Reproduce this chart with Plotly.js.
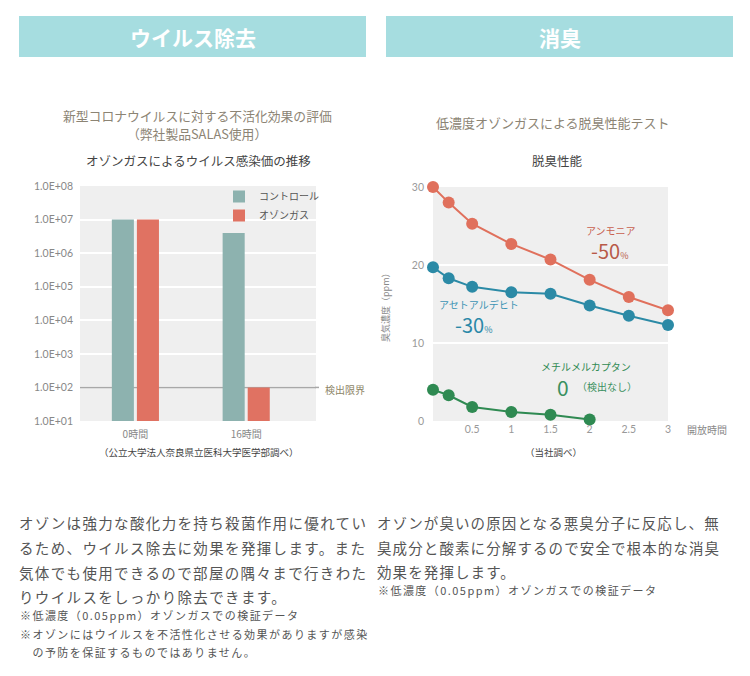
<!DOCTYPE html>
<html>
<head>
<meta charset="utf-8">
<script src="https://cdn.plot.ly/plotly-3.0.1.min.js"></script>
<style>
html,body{margin:0;padding:0;background:#fff;}
#chart{width:750px;height:676px;}
</style>
<style id="spacing"></style>
</head>
<body>
<div id="chart"></div>
<script>
// ---- Data: virus chart ----
const barCategories = ['0時間', '16時間'];
const controlValues = [1e7, 4e6];
const ozoneValues = [1e7, 1e2];
const logTickVals = [1e1, 1e2, 1e3, 1e4, 1e5, 1e6, 1e7, 1e8];
const logTickText = ['1.0E+01', '1.0E+02', '1.0E+03', '1.0E+04', '1.0E+05', '1.0E+06', '1.0E+07', '1.0E+08'];
const detectionLimit = 1e2;

// ---- Data: deodorizing chart ----
const timeLong = [0, 0.2, 0.5, 1, 1.5, 2, 2.5, 3];
const ammonia = [30, 28, 25.3, 22.7, 20.7, 18.1, 15.9, 14.2];
const acetaldehyde = [19.7, 18.3, 17.2, 16.5, 16.3, 14.8, 13.5, 12.3];
const timeShort = [0, 0.2, 0.5, 1, 1.5, 2];
const methylMercaptan = [4.0, 3.3, 1.8, 1.15, 0.8, 0.2];
const odorTickVals = [0, 10, 20, 30];
const timeTickVals = [0.5, 1, 1.5, 2, 2.5, 3];
const timeTickText = ['0.5', '1', '1.5', '2', '2.5', '3'];

// ---- Texts ----
const leftParagraph = [
  'オゾンは強力な酸化力を持ち殺菌作用に優れてい',
  'るため、ウイルス除去に効果を発揮します。また',
  '気体でも使用できるので部屋の隅々まで行きわた',
  'りウイルスをしっかり除去できます。'
];
const leftNotes = [
  '※低濃度（0.05ppm）オゾンガスでの検証データ',
  '※オゾンにはウイルスを不活性化させる効果がありますが感染',
  '　の予防を保証するものではありません。'
];
const rightParagraph = [
  'オゾンが臭いの原因となる悪臭分子に反応し、無',
  '臭成分と酸素に分解するので安全で根本的な消臭',
  '効果を発揮します。'
];
const rightNotes = ['※低濃度（0.05ppm）オゾンガスでの検証データ'];

const W = 750, H = 676;
const px = x => x / W;
const py = y => 1 - y / H;
const JP = '"Noto Sans CJK JP", "Noto Sans", sans-serif';
const NUM = 'Lato, "Noto Sans", sans-serif';

const cRed = '#e0705c';
const cTeal = '#2b8aa6';
const cGreen = '#2f8a52';
const cControl = '#8db2af';
const cOzone = '#e07262';

const barXRange = [-0.5, 1.63];

const traces = [
  {type: 'bar', name: 'コントロール', x: barCategories, y: controlValues, marker: {color: cControl}, xaxis: 'x', yaxis: 'y', hoverinfo: 'skip'},
  {type: 'bar', name: 'オゾンガス', x: barCategories, y: ozoneValues, marker: {color: cOzone}, xaxis: 'x', yaxis: 'y', hoverinfo: 'skip'},
  {type: 'scatter', mode: 'lines+markers', name: 'アンモニア', x: timeLong, y: ammonia, line: {color: cRed, width: 2}, marker: {color: cRed, size: 12}, xaxis: 'x2', yaxis: 'y2', showlegend: false, cliponaxis: false},
  {type: 'scatter', mode: 'lines+markers', name: 'アセトアルデヒト', x: timeLong, y: acetaldehyde, line: {color: cTeal, width: 2}, marker: {color: cTeal, size: 12}, xaxis: 'x2', yaxis: 'y2', showlegend: false, cliponaxis: false},
  {type: 'scatter', mode: 'lines+markers', name: 'メチルメルカプタン', x: timeShort, y: methylMercaptan, line: {color: cGreen, width: 2}, marker: {color: cGreen, size: 12}, xaxis: 'x2', yaxis: 'y2', showlegend: false, cliponaxis: false}
];

const ann = [];
function txt(x, y, text, size, color, opts) {
  const a = Object.assign({
    xref: 'paper', yref: 'paper', x: px(x), y: py(y), text: text, showarrow: false,
    xanchor: 'center', yanchor: 'middle',
    font: {family: JP, size: size, color: color}
  }, opts || {});
  ann.push(a);
  return ann.length - 1;
}

// headers
txt(192.5, 37, 'ウイルス除去', 21, '#ffffff', {font: {family: JP, size: 21, color: '#ffffff', weight: 'bold'}});
txt(559.5, 37, '消臭', 21, '#ffffff', {font: {family: JP, size: 21, color: '#ffffff', weight: 'bold'}});

// left titles
txt(197, 115.5, '新型コロナウイルスに対する不活化効果の評価', 12.8, '#8c8474');
txt(197, 133.5, '（弊社製品SALAS使用）', 12.8, '#8c8474');
txt(198, 161, 'オゾンガスによるウイルス感染価の推移', 12.5, '#444444');
txt(199, 452, '（公立大学法人奈良県立医科大学医学部調べ）', 9.5, '#444444');
txt(323, 389, '検出限界', 10, '#8c8466', {xanchor: 'left'});

// right titles
txt(553, 122, '低濃度オゾンガスによる脱臭性能テスト', 13, '#8c8474');
txt(557, 161, '脱臭性能', 12.5, '#444444');
txt(553, 452, '（当社調べ）', 9.5, '#444444');
txt(685, 429, '開放時間', 10, '#888888', {xanchor: 'left'});
txt(386, 305, '臭気濃度（ppm）', 9, '#888888', {textangle: -90});

// series labels
txt(611, 230, 'アンモニア', 10, '#c8604e');
txt(609, 250, '-50<span style="font-size:9px">%</span>', 20, '#b85a48');
txt(479, 305, 'アセトアルデヒト', 10, '#3c94b4');
txt(473, 324, '-30<span style="font-size:9px">%</span>', 20, '#2a88a8');
txt(586, 366, 'メチルメルカプタン', 10, '#2f8a52');
txt(563, 387, '0', 21, '#3a9060');
txt(575, 386, '（検出なし）', 10, '#3a9060', {xanchor: 'left'});

// paragraphs
const spacingRules = [];
const leftParaY = [522, 547, 572, 596];
leftParagraph.forEach((t, i) => { const k = txt(17, leftParaY[i], t, 14.5, '#555555', {xanchor: 'left', align: 'left'}); spacingRules.push([k, 1.35]); });
const leftNoteY = [615, 634, 652];
leftNotes.forEach((t, i) => { const k = txt(18, leftNoteY[i], t, 11, '#555555', {xanchor: 'left', align: 'left'}); spacingRules.push([k, 1.45]); });
const rightParaY = [522, 547, 571];
rightParagraph.forEach((t, i) => { const k = txt(375, rightParaY[i], t, 14.5, '#555555', {xanchor: 'left', align: 'left'}); spacingRules.push([k, 1.1]); });
const rightNoteY = [590];
rightNotes.forEach((t, i) => { const k = txt(376, rightNoteY[i], t, 11, '#555555', {xanchor: 'left', align: 'left'}); spacingRules.push([k, 1.45]); });

document.getElementById('spacing').textContent = spacingRules.map(r =>
  'g.annotation[data-index="' + r[0] + '"] text{letter-spacing:' + r[1] + 'px;}').join('\n');

const shapes = [
  {type: 'rect', xref: 'paper', yref: 'paper', x0: px(19), x1: px(366), y0: py(57), y1: py(16), fillcolor: '#a6dde0', line: {width: 0}, layer: 'below'},
  {type: 'rect', xref: 'paper', yref: 'paper', x0: px(386), x1: px(733), y0: py(57), y1: py(16), fillcolor: '#a6dde0', line: {width: 0}, layer: 'below'},
  // detection limit: between gridlines and bars
  {type: 'line', xref: 'x', yref: 'y', x0: barXRange[0], x1: barXRange[1], y0: detectionLimit, y1: detectionLimit, line: {color: '#a8a8a8', width: 1.5}, layer: 'between'},
  {type: 'line', xref: 'paper', yref: 'y', x0: px(315), x1: px(319), y0: detectionLimit, y1: detectionLimit, line: {color: '#a8a8a8', width: 1.5}, layer: 'above'}
];

const layout = {
  width: W, height: H,
  margin: {l: 0, r: 0, t: 0, b: 0},
  paper_bgcolor: '#ffffff',
  plot_bgcolor: '#efefef',
  font: {family: JP, color: '#888888'},
  barmode: 'group',
  bargap: 0.5475,
  bargroupgap: 0.12,
  showlegend: true,
  legend: {x: px(219), y: py(182), xanchor: 'left', yanchor: 'top', bgcolor: 'rgba(0,0,0,0)',
           font: {family: JP, size: 10, color: '#555555'}, tracegroupgap: 0, itemwidth: 30},
  xaxis: {domain: [px(80), px(316)], anchor: 'y', type: 'category', range: barXRange,
          showgrid: false, zeroline: false, showline: false, ticks: '', ticklabelstandoff: 6,
          tickfont: {family: JP, size: 10, color: '#888888'}, fixedrange: true},
  yaxis: {domain: [py(421), py(186)], anchor: 'x', type: 'log', range: [1, 8],
          tickvals: logTickVals, ticktext: logTickText, showgrid: true, gridcolor: '#ffffff', gridwidth: 2,
          zeroline: false, showline: false, ticks: '', ticklabelstandoff: 6,
          tickfont: {family: NUM, size: 10.5, color: '#888888'}, fixedrange: true},
  xaxis2: {domain: [px(433), px(668)], anchor: 'y2', range: [0, 3],
           tickvals: timeTickVals, ticktext: timeTickText, showgrid: false, zeroline: false, showline: false, ticks: '',
           tickfont: {family: NUM, size: 10.5, color: '#999999'}, fixedrange: true},
  yaxis2: {domain: [py(421), py(187)], anchor: 'x2', range: [0, 30],
           tickvals: odorTickVals, showgrid: true, gridcolor: '#ffffff', gridwidth: 2,
           zeroline: false, showline: false, ticks: '', ticklabelstandoff: 8,
           tickfont: {family: NUM, size: 10.5, color: '#999999'}, fixedrange: true},
  annotations: ann,
  shapes: shapes
};

Plotly.newPlot('chart', traces, layout, {displayModeBar: false, staticPlot: true});
</script>
</body>
</html>
